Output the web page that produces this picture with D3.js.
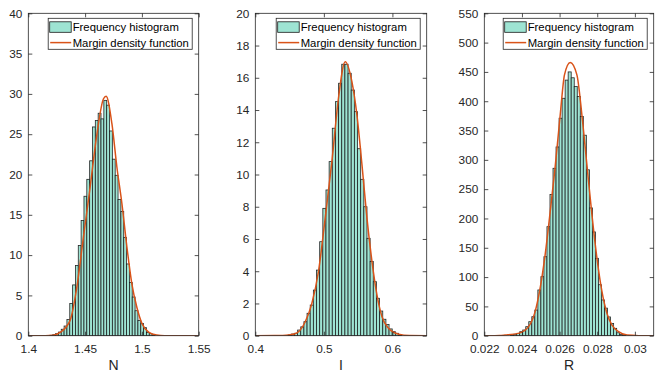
<!DOCTYPE html>
<html><head><meta charset="utf-8">
<script src="https://cdn.jsdelivr.net/npm/d3@7"></script>
<style>
body{margin:0;background:#fff}
svg{display:block;font-family:Arial,"Liberation Sans",Helvetica,sans-serif}
</style>
</head><body>
<svg id="c" width="664" height="378"></svg>
<script>
// ---------- data: N ----------
const nBinStart = 1.419, nBinWidth = 0.0025;
const nHeights = [0.05,0.12,0.25,0.45,0.8,1.2,2.0,4.0,6.3,8.7,11.2,14.3,17.3,19.4,21.7,25.9,26.7,27.6,26.9,29.2,
  28.6,25.4,21.9,19.9,16.9,15.4,12.2,8.9,6.6,4.8,3.1,1.9,1.5,1.0,0.4,0.25,0.1];
const nCurveX = [1.40,1.415,1.422,1.428,1.4368,1.4427,1.4485,1.4544,1.4604,1.4662,1.4685,1.4736,1.478,1.4824,1.4868,1.4912,1.4956,1.5001,1.5059,1.513,1.52,1.55];
const nCurveY = [0,0,0.05,0.4,1.9,6.0,12.2,18.4,25.0,29.4,29.7,26.3,20.9,16.4,11.0,6.4,3.5,1.5,0.45,0.08,0,0];
const nXTicks = [1.4,1.45,1.5,1.55];
const nXTickLabels = ["1.4","1.45","1.5","1.55"];
const nYTicks = [0,5,10,15,20,25,30,35,40];

// ---------- data: I ----------
const iBinStart = 0.4479, iBinWidth = 0.0046;
const iHeights = [0.05,0.1,0.15,0.35,0.55,0.87,1.39,1.9,2.83,4.07,5.83,7.9,9.04,10.8,12.87,14.52,15.66,16.84,16.84,
  16.28,15.24,13.9,11.6,9.7,8.0,6.04,4.6,3.35,2.32,1.53,1.02,0.7,0.42,0.25,0.15,0.05];
const iCurveX = [0.40,0.44,0.458,0.4727,0.4825,0.4921,0.5019,0.5117,0.5213,0.5311,0.5409,0.5482,0.5556,0.5629,0.5702,0.5775,0.5848,0.5944,0.6091,0.625,0.65];
const iCurveY = [0,0.01,0.12,0.85,2.0,3.97,7.28,10.8,14.73,17.0,15.76,13.7,10.6,7.28,4.6,2.52,1.18,0.46,0.09,0.01,0];
const iXTicks = [0.4,0.5,0.6];
const iXTickLabels = ["0.4","0.5","0.6"];
const iYTicks = [0,2,4,6,8,10,12,14,16,18,20];

// ---------- data: R ----------
const rBinStart = 0.023397, rBinWidth = 0.000161;
const rHeights = [1,2.4,4,6.8,9.7,15.4,23.9,32.4,43.8,78,100.7,134.8,186,241,285.6,322,371,405,436,450,440,
  425,408,374,342,283,218,177,132,87,61,47,32,21,12.6,5,2,1];
const rCurveX = [0.022,0.0228,0.023102,0.023811,0.024343,0.0247,0.024966,0.025232,0.025499,0.025765,0.026031,0.02626,0.026564,0.02692,0.027187,0.027453,0.027719,0.027986,0.028252,0.028518,0.028785,0.029136,0.029583,0.0302,0.031];
const rCurveY = [0,0.2,1,4,15,41,81,138,211,288,376,445,466,445,376,291,206,132,75,38,18,7,1,0.1,0];
const rXTicks = [0.022,0.024,0.026,0.028,0.03];
const rXTickLabels = ["0.022","0.024","0.026","0.028","0.03"];
const rYTicks = [0,50,100,150,200,250,300,350,400,450,500,550];

const legendLabels = ["Frequency histogram","Margin density function"];

// ---------- layout / style ----------
const TOP = 13.3, BOTTOM = 335.7;
const AX = "#262626", BAR_FILL = "#9ee4d3", BAR_EDGE = "#1a1a1a", CURVE = "#D95319";

const panels = [
  {name:"N", left:28.3, right:198.7, xDomain:[1.4,1.55], yDomain:[0,40], xTicks:nXTicks, xLabels:nXTickLabels, yTicks:nYTicks,
   binStart:nBinStart, binWidth:nBinWidth, heights:nHeights, cx:nCurveX, cy:nCurveY},
  {name:"I", left:255.3, right:426.7, xDomain:[0.4,0.65], yDomain:[0,20], xTicks:iXTicks, xLabels:iXTickLabels, yTicks:iYTicks,
   binStart:iBinStart, binWidth:iBinWidth, heights:iHeights, cx:iCurveX, cy:iCurveY},
  {name:"R", left:484.3, right:653.7, xDomain:[0.022,0.031], yDomain:[0,550], xTicks:rXTicks, xLabels:rXTickLabels, yTicks:rYTicks,
   binStart:rBinStart, binWidth:rBinWidth, heights:rHeights, cx:rCurveX, cy:rCurveY}
];

const svg = d3.select("#c");
const TICK = 4;

panels.forEach((p, pi) => {
  const x = d3.scaleLinear().domain(p.xDomain).range([p.left, p.right]);
  const y = d3.scaleLinear().domain(p.yDomain).range([BOTTOM, TOP]);
  const g = svg.append("g");

  const clipId = "clip" + pi;
  svg.append("clipPath").attr("id", clipId).append("rect")
    .attr("x", p.left).attr("y", TOP).attr("width", p.right - p.left).attr("height", BOTTOM - TOP);

  // bars
  const bins = p.heights.map((h, i) => ({x0: p.binStart + i * p.binWidth, x1: p.binStart + (i + 1) * p.binWidth, h}));
  g.append("g").attr("clip-path", `url(#${clipId})`).selectAll("rect").data(bins).join("rect")
    .attr("x", d => x(d.x0)).attr("width", d => x(d.x1) - x(d.x0))
    .attr("y", d => y(d.h)).attr("height", d => y(0) - y(d.h))
    .attr("fill", BAR_FILL).attr("stroke", BAR_EDGE).attr("stroke-width", 0.8).attr("stroke-opacity", 0.95);

  // curve
  const pts = p.cx.map((v, i) => [v, p.cy[i]]);
  const line = d3.line().x(d => x(d[0])).y(d => y(d[1])).curve(d3.curveMonotoneX);
  g.append("path").attr("clip-path", `url(#${clipId})`).datum(pts).attr("d", line)
    .attr("fill", "none").attr("stroke", CURVE).attr("stroke-width", 1.5);

  // axes
  const fs = "11.8px";
  const xb = g.append("g").attr("transform", `translate(0,${BOTTOM})`)
    .call(d3.axisBottom(x).tickValues(p.xTicks).tickFormat((d, i) => p.xLabels[i]).tickSizeInner(-TICK).tickSizeOuter(0).tickPadding(8.8));
  const xt = g.append("g").attr("transform", `translate(0,${TOP})`)
    .call(d3.axisTop(x).tickValues(p.xTicks).tickFormat("").tickSizeInner(-TICK).tickSizeOuter(0));
  const yl = g.append("g").attr("transform", `translate(${p.left},0)`)
    .call(d3.axisLeft(y).tickValues(p.yTicks).tickFormat(d3.format("d")).tickSizeInner(-TICK).tickSizeOuter(0).tickPadding(6));
  const yr = g.append("g").attr("transform", `translate(${p.right},0)`)
    .call(d3.axisRight(y).tickValues(p.yTicks).tickFormat("").tickSizeInner(-TICK).tickSizeOuter(0));
  [xb, xt, yl, yr].forEach(a => {
    a.select(".domain").remove();
    a.selectAll("line").attr("stroke", AX).attr("stroke-width", 0.8);
    a.selectAll("text").attr("fill", AX).style("font-size", fs).style("font-family", "Arial, 'Liberation Sans', sans-serif");
  });
  g.append("rect").attr("x", p.left).attr("y", TOP).attr("width", p.right - p.left).attr("height", BOTTOM - TOP)
    .attr("fill", "none").attr("stroke", AX).attr("stroke-width", 0.8);

  // axis label
  g.append("text").attr("x", (p.left + p.right) / 2).attr("y", 370).attr("text-anchor", "middle")
    .attr("fill", AX).style("font-size", "14px").text(p.name);

  // legend
  const lw = 144, lh = 31;
  const lx = p.right - 6.5 - lw, ly = TOP + 5;
  const lg = g.append("g");
  lg.append("rect").attr("x", lx).attr("y", ly).attr("width", lw).attr("height", lh)
    .attr("fill", "#fff").attr("stroke", AX).attr("stroke-width", 0.8);
  lg.append("rect").attr("x", lx + 1.5).attr("y", ly + 3.5).attr("width", 21.5).attr("height", 10.5)
    .attr("fill", BAR_FILL).attr("stroke", BAR_EDGE).attr("stroke-width", 0.8);
  lg.append("line").attr("x1", lx + 2).attr("x2", lx + 23).attr("y1", ly + 24.3).attr("y2", ly + 24.3)
    .attr("stroke", CURVE).attr("stroke-width", 1.5);
  lg.selectAll("text").data(legendLabels).join("text")
    .attr("x", lx + 24.5).attr("y", (d, i) => ly + 8.8 + i * 15.5).attr("dy", "0.35em")
    .attr("fill", "#000").style("font-size", "11.3px").text(d => d);
});
</script>
</body></html>
